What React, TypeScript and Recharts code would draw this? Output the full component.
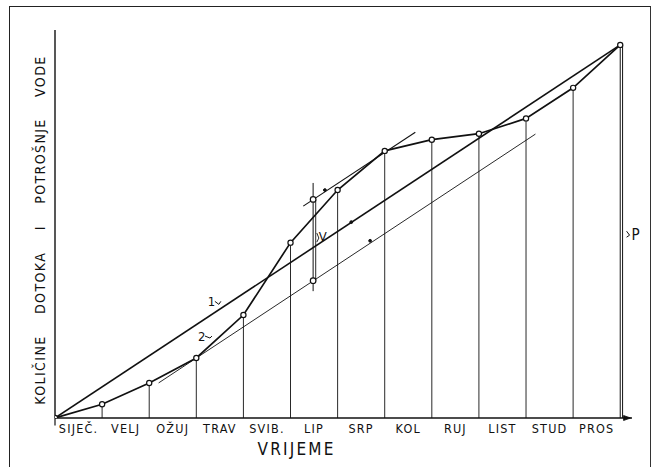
import React from 'react';
import {
  ComposedChart, Line, XAxis, YAxis, ReferenceLine, ReferenceDot,
} from 'recharts';

// month names (x-axis categories)
const months = ['SIJEČ.', 'VELJ', 'OŽUJ', 'TRAV', 'SVIB.', 'LIP', 'SRP', 'KOL', 'RUJ', 'LIST', 'STUD', 'PROS'];
// month boundaries 0..12
const monthIdx = [0, 1, 2, 3, 4, 5, 6, 7, 8, 9, 10, 11, 12];
// cumulative inflow (mass curve), % of annual total
const inflow = [0, 3.7, 9.4, 16.1, 27.6, 47.0, 61.1, 71.6, 74.6, 76.2, 80.3, 88.5, 100];
// cumulative consumption (line 1)
const demandX = [0, 12];
const demandY = [0, 100];
// lower tangent line (2), parallel to consumption
const tan2X = [2.2, 10.2];
const tan2Y = [9.4, 76.1];
// upper tangent line
const tanTopX = [5.27, 7.65];
const tanTopY = [56.8, 76.6];
// storage volume V
const vX = 5.48;
const vTopExt = 63;
const vBotExt = 34;
const vUpper = 58.6;
const vLower = 36.8;
// small construction dots
const markX = [6.29, 6.69, 5.73];
const markY = [52.5, 47.5, 61.1];

const inflowData = monthIdx.map((x, i) => ({ x, y: inflow[i] }));
const demandData = demandX.map((x, i) => ({ x, y: demandY[i] }));
const tan2Data = tan2X.map((x, i) => ({ x, y: tan2Y[i] }));
const tanTopData = tanTopX.map((x, i) => ({ x, y: tanTopY[i] }));
const monthTicks = months.map((_, i) => i + 0.5);

const FONT = "'DejaVu Sans Condensed', 'Liberation Sans Narrow', 'DejaVu Sans', sans-serif";
const INK = '#111';

const YLabel = (props: any) => {
  const vb = props.viewBox || { x: 0, y: 30, width: 55, height: 388 };
  const cx = vb.x + 40;
  const cy = vb.y + 200;
  return (
    <text
      x={0}
      y={0}
      transform={`translate(${cx},${cy}) rotate(-90)`}
      textAnchor="middle"
      dominantBaseline="central"
      fontSize={14}
      fontFamily={FONT}
      letterSpacing={1.4}
      wordSpacing={16}
      fill={INK}
    >
      KOLIČINE DOTOKA I POTROŠNJE VODE
    </text>
  );
};

export default function App() {
  return (
    <div style={{ position: 'absolute', left: 0, top: 0, width: 654, height: 467, background: '#fff', overflow: 'hidden' }}>
      <div
        style={{
          position: 'absolute', left: 9, top: 6, width: 640, height: 470,
          borderLeft: '1.5px solid #222', borderTop: '1.5px solid #222', borderRight: '1px solid #333',
        }}
      />
      <div style={{ position: 'absolute', left: 0, top: 0 }}>
        <ComposedChart width={654} height={467} data={inflowData} margin={{ top: 30, right: 22, left: 0, bottom: 9 }}>
          <XAxis
            type="number"
            dataKey="x"
            domain={[0, 12.25]}
            allowDataOverflow
            ticks={monthTicks}
            interval={0}
            tickFormatter={(v: number) => months[Math.floor(v)] || ''}
            tickLine={false}
            axisLine={{ stroke: INK, strokeWidth: 1.6 }}
            tick={{ fill: INK, fontSize: 12.5, fontFamily: FONT, letterSpacing: 1.2 }}
            tickMargin={0}
            height={40}
            label={{ value: 'VRIJEME', position: 'insideBottom', offset: 3, dx: -47, fill: INK, fontSize: 17, fontFamily: FONT, letterSpacing: 2.2 }}
          />
          <YAxis
            type="number"
            domain={[0, 104]}
            allowDataOverflow
            width={55}
            tick={false}
            tickLine={false}
            axisLine={{ stroke: INK, strokeWidth: 1.4 }}
            label={{ content: YLabel }}
          />

          {monthIdx.slice(1, 12).map((m, i) => (
            <ReferenceLine
              key={`v${m}`}
              segment={[{ x: m, y: 0 }, { x: m, y: inflow[i + 1] }]}
              stroke={INK}
              strokeWidth={0.9}
            />
          ))}
          {/* P double line */}
          <ReferenceLine segment={[{ x: 12, y: 0 }, { x: 12, y: inflow[12] }]} stroke={INK} strokeWidth={1} />
          <ReferenceLine
            segment={[{ x: 12.05, y: 0 }, { x: 12.05, y: inflow[12] }]}
            stroke={INK}
            strokeWidth={1}
            ifOverflow="visible"
            label={(p: any) => {
              const vb = p.viewBox || {};
              const x = (vb.x || 0) + 4;
              const y = (vb.y || 0) + (vb.height || 0) * 0.51;
              return (
                <g>
                  <path d={`M${x},${y - 4} L${x + 3},${y} L${x},${y + 2}`} stroke={INK} fill="none" strokeWidth={1} />
                  <text x={x + 5} y={y + 5} fontSize={15} fontFamily={FONT} fill={INK}>P</text>
                </g>
              );
            }}
          />
          {/* origin tick */}
          <ReferenceLine segment={[{ x: 0, y: 0 }, { x: 0, y: -2 }]} stroke={INK} strokeWidth={1.2} ifOverflow="visible" />

          {/* V construction */}
          <ReferenceLine segment={[{ x: vX, y: vBotExt }, { x: vX, y: vTopExt }]} stroke={INK} strokeWidth={1} />
          <ReferenceLine segment={[{ x: vX + 0.055, y: vLower }, { x: vX + 0.055, y: vUpper }]} stroke={INK} strokeWidth={0.9} />

          <Line data={demandData} dataKey="y" type="linear" stroke={INK} strokeWidth={1.6} dot={false} isAnimationActive={false} />
          <Line data={tan2Data} dataKey="y" type="linear" stroke={INK} strokeWidth={0.9} dot={false} isAnimationActive={false} />
          <Line data={tanTopData} dataKey="y" type="linear" stroke={INK} strokeWidth={1.1} dot={false} isAnimationActive={false} />
          <Line
            data={inflowData}
            dataKey="y"
            type="linear"
            stroke={INK}
            strokeWidth={1.7}
            dot={{ r: 2.6, fill: '#fff', stroke: INK, strokeWidth: 1.2 }}
            isAnimationActive={false}
          />

          <ReferenceDot x={vX} y={vUpper} r={2.8} fill="#fff" stroke={INK} strokeWidth={1.2} />
          <ReferenceDot x={vX} y={vLower} r={2.8} fill="#fff" stroke={INK} strokeWidth={1.2} />
          {markX.map((mx, i) => (
            <ReferenceDot key={`d${i}`} x={mx} y={markY[i]} r={1.4} fill={INK} stroke={INK} />
          ))}

          {/* V label */}
          <ReferenceDot
            x={vX + 0.1}
            y={48.5}
            r={0}
            shape={(p: any) => (
              <g>
                <path d={`M${p.cx - 1},${p.cy - 4} L${p.cx + 1},${p.cy + 1} L${p.cx - 1},${p.cy + 5}`} stroke={INK} fill="none" strokeWidth={0.9} />
                <text x={p.cx + 1} y={p.cy + 4} fontSize={13} fontFamily={FONT} fill={INK}>V</text>
              </g>
            )}
          />
          {/* labels 1 and 2 */}
          <ReferenceDot
            x={3.33}
            y={31.0}
            r={0}
            shape={(p: any) => (
              <g>
                <text x={p.cx - 4} y={p.cy + 4} fontSize={13} fontFamily={FONT} fill={INK}>1</text>
                <path d={`M${p.cx + 3},${p.cy - 1} L${p.cx + 7},${p.cy + 2} L${p.cx + 9},${p.cy - 1}`} stroke={INK} fill="none" strokeWidth={1} />
              </g>
            )}
          />
          <ReferenceDot
            x={3.12}
            y={21.7}
            r={0}
            shape={(p: any) => (
              <g>
                <text x={p.cx - 4} y={p.cy + 4} fontSize={13} fontFamily={FONT} fill={INK}>2</text>
                <path d={`M${p.cx + 3},${p.cy - 1} L${p.cx + 8},${p.cy + 1} L${p.cx + 10},${p.cy - 1}`} stroke={INK} fill="none" strokeWidth={1} />
              </g>
            )}
          />
          {/* axis arrow */}
          <ReferenceDot
            x={12.22}
            y={0}
            r={0}
            ifOverflow="visible"
            shape={(p: any) => (
              <path d={`M${p.cx - 7},${p.cy - 2.5} L${p.cx},${p.cy} L${p.cx - 7},${p.cy + 2.5} Z`} fill={INK} stroke={INK} strokeWidth={0.8} />
            )}
          />
        </ComposedChart>
      </div>
    </div>
  );
}
